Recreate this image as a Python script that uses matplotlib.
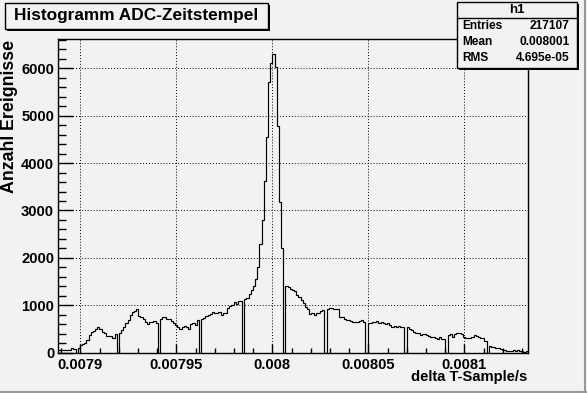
import numpy as np
import matplotlib
matplotlib.use("Agg")
import matplotlib.pyplot as plt
from matplotlib.patches import Rectangle
from matplotlib.ticker import MultipleLocator

# histogram of delta T between ADC samples
x_lo = 0.0078885
bin_w = 1.1266e-6
counts = [
    55, 55, 50, 50, 55, 55, 100, 80, 0, 90,
    162, 183, 198, 260, 373, 443, 464, 506, 535, 494,
    430, 409, 352, 352, 352, 317, 394, 0, 409, 479,
    535, 633, 690, 802, 865, 886, 916, 774, 747, 705,
    641, 605, 647, 641, 675, 620, 0, 717, 747, 747,
    705, 705, 675, 620, 584, 535, 500, 535, 563, 535,
    494, 605, 620, 584, 690, 0, 705, 739, 774, 788,
    816, 858, 830, 845, 858, 802, 830, 830, 950, 985,
    1006, 1070, 1027, 1091, 1091, 0, 1127, 1154, 1232, 1323,
    1407, 1549, 1800, 2294, 2800, 3623, 4558, 5705, 6106, 6296,
    6035, 4784, 3186, 2200, 0, 1407, 1380, 1344, 1330, 1295,
    1224, 1169, 1112, 1040, 971, 922, 817, 844, 802, 830,
    844, 873, 901, 0, 930, 950, 943, 916, 916, 916,
    753, 745, 717, 700, 683, 662, 641, 655, 655, 669,
    683, 640, 0, 620, 634, 641, 641, 675, 620, 641,
    620, 605, 620, 584, 535, 563, 535, 563, 549, 549,
    0, 540, 500, 470, 443, 422, 408, 373, 387, 394,
    373, 352, 330, 323, 302, 281, 323, 281, 281, 0,
    373, 387, 337, 387, 408, 408, 387, 337, 316, 316,
    316, 337, 366, 352, 337, 316, 302, 240, 0, 141,
    127, 127, 105, 91, 80, 65, 56, 42, 42, 42,
    56, 42, 56, 42, 42, 21, 42,
]
xticks = [0.0079, 0.00795, 0.008, 0.00805, 0.0081]
xtick_labels = ["0.0079", "0.00795", "0.008", "0.00805", "0.0081"]
yticks = [0, 1000, 2000, 3000, 4000, 5000, 6000]

title = "Histogramm ADC-Zeitstempel"
stats_name = "h1"
stats_rows = [("Entries", "217107"), ("Mean", "0.008001"), ("RMS", "4.695e-05")]

bg = "#f2f2f2"
plt.rcParams['font.family'] = ['Liberation Sans', 'DejaVu Sans']
plt.rcParams['font.weight'] = 'bold'

fig = plt.figure(figsize=(5.87, 3.93), dpi=100, facecolor=bg)
ax = fig.add_axes([58.3/587, 1-352.7/393, 470/587, 313.4/393])
ax.set_facecolor(bg)

edges = x_lo + bin_w*np.arange(len(counts)+1)
ax.stairs(counts, edges, color='black', lw=0.85, baseline=0)

ax.set_xlim(x_lo, 0.0081333)
ax.set_ylim(0, 1.05*max(counts))
ax.set_xticks(xticks, labels=xtick_labels)
ax.set_yticks(yticks, labels=[str(v) for v in yticks])
ax.xaxis.set_minor_locator(MultipleLocator(1e-5))
ax.yaxis.set_minor_locator(MultipleLocator(200))
ax.tick_params(axis='both', which='both', direction='in', width=1, labelsize=10.6)
ax.tick_params(axis='y', which='major', length=10.8, pad=3)
ax.tick_params(axis='y', which='minor', length=5.6)
ax.tick_params(axis='x', which='major', length=6.6, pad=3.5)
ax.tick_params(axis='x', which='minor', length=3.4)
ax.grid(True, which='major', color='black', ls=(0, (1, 2)), lw=0.7)
for s in ax.spines.values():
    s.set_linewidth(1)

# overlay in pixel coordinates for the ROOT paves
ov = fig.add_axes([0, 0, 1, 1], zorder=5)
ov.set_xlim(0, 587)
ov.set_ylim(393, 0)
ov.axis('off')
ov.patch.set_alpha(0)

# canvas bevel on the right and bottom
ov.plot([584.5, 584.5], [0, 393], color='#9a9a9a', lw=1.5)
ov.plot([0, 587], [391.5, 391.5], color='#9a9a9a', lw=1.5)

# title pave with shadow
ov.add_patch(Rectangle((7, 5), 263, 25.5, fc='black', ec='none'))
ov.add_patch(Rectangle((5, 3), 263, 25.5, fc=bg, ec='black', lw=1))
ov.text(136.5, 15.8, title, ha='center', va='center', fontsize=12.4, fontweight='bold')

# stats pave
ov.add_patch(Rectangle((458.5, 4), 120, 66, fc='black', ec='none'))
ov.add_patch(Rectangle((456.5, 2), 120, 66, fc=bg, ec='black', lw=1))
ov.plot([456.5, 576.5], [17.5, 17.5], color='black', lw=1)
ov.text(516.5, 10, stats_name, ha='center', va='center', fontsize=9.5, fontweight='bold')
for k, (lab, val) in enumerate(stats_rows):
    yy = 26 + 16*k
    ov.text(462, yy, lab, ha='left', va='center', fontsize=8.6, fontweight='bold')
    ov.text(570, yy, val, ha='right', va='center', fontsize=8.6, fontweight='bold')

ov.text(10, 40, "Anzahl Ereignisse", rotation=90, ha='center', va='top',
        fontsize=12.8, fontweight='bold')
ov.text(527.5, 377.5, "delta T-Sample/s", ha='right', va='center',
        fontsize=10.6, fontweight='bold')

fig.savefig("out.png", dpi=100, facecolor=bg)
